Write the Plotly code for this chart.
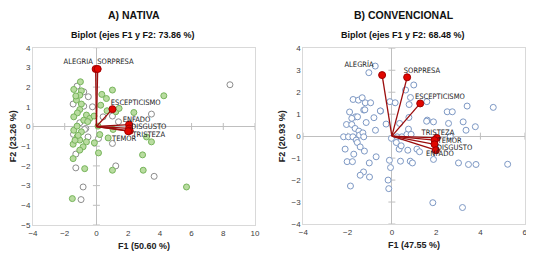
import plotly.graph_objects as go

# ---------------- data: A) NATIVA ----------------
nat_green_x = [-1.01,-1.43,-0.95,-1.05,-1.26,-0.95,-1.05,-1.2,-1.43,-0.63,-0.8,-0.42,-0.15,-1.43,-1.22,-0.95,
               -1.22,-1.05,-1.47,-0.63,-0.84,-1.05,-1.47,-0.13,0.21,0.1,0.13,-0.74,1.01,-1.52,0.34,0.63,0.27,
               1.01,0.67,1.22,1.43,1.05,0.74,2.36,4.25,3.16,3.47,2.91,2.95,5.68,-1.3,-1.35,-1.15,-0.55]
nat_green_y = [2.27,1.88,1.81,1.59,1.34,1.14,0.86,0.69,0.49,0.58,0.32,0.41,0.53,-0.19,0.02,-0.27,
               -0.53,-0.69,-0.9,-0.78,-1.03,-1.2,-1.63,-0.83,-0.41,0.02,-1.34,-2.14,-2.22,-3.66,1.63,1.42,1.08,
               1.85,0.8,0.75,0.92,-0.15,-0.58,0.71,1.56,-0.53,-0.78,-1.44,-2.22,-3.07,1.55,-0.7,-0.45,0.25]
nat_open_x = [-1.22,-0.8,-0.51,-1.47,-0.8,-1.05,-0.25,-0.67,-0.53,-1.3,0.13,-1.3,1.22,-0.84,-0.97,0.42,
              1.01,1.39,1.01,3.47,3.64,8.42,-1.45,-0.75]
nat_open_y = [2.05,1.76,1.51,1.14,1.03,0.19,1.0,-0.1,-0.53,-1.4,-0.61,-2.1,-2.0,-3.07,-3.71,0.49,
              0.53,0.24,-0.86,0.63,-2.53,2.12,-0.4,-0.15]
nat_vars = ["ALEGRIA", "SORPRESA", "ESCEPTICISMO", "ENFADO", "DISGUSTO", "TRISTEZA", "TEMOR"]
nat_load_x = [-0.05, 0.08, 1.01, 2.06, 2.06, 2.1, 2.0]
nat_load_y = [2.92, 2.92, 0.88, 0.1, -0.1, -0.22, -0.24]
nat_lab_x = [-1.15, 1.2, 2.48, 2.53, 3.3, 3.3, 1.75]
nat_lab_y = [3.25, 3.25, 1.2, 0.34, -0.03, -0.43, -0.63]
nat_xticks = [-4, -2, 0, 2, 4, 6, 8, 10]
nat_yticks = [-5, -4, -3, -2, -1, 0, 1, 2, 3, 4]

# ---------------- data: B) CONVENCIONAL ----------------
conv_x = [-0.75,-1.04,0.99,0.62,0.84,-1.75,-1.51,-1.34,-1.2,-0.96,-0.09,0.15,0.78,1.58,-1.27,-0.51,
          -1.91,-1.64,-1.81,-1.55,-1.16,-0.81,-0.26,0.35,0.77,1.6,1.88,2.5,2.73,3.4,4.58,2.56,
          3.22,3.77,3.35,2.64,-2.05,-1.81,-1.66,-1.49,-1.46,-1.31,-2.18,-1.96,-1.76,-1.61,-1.27,-1.56,
          -1.43,-0.74,-0.02,0.24,0.45,0.68,0.75,0.87,0.33,0.72,1.13,1.25,-2.11,-1.72,-1.24,-0.71,
          -2.02,-1.78,-1.02,-0.11,0.39,0.83,0.93,1.88,3.01,3.46,3.8,5.23,-1.28,-1.43,-1.01,-0.06,
          -0.17,-0.14,-1.87,1.85,3.19,0.2,0.42,-0.52,1.57,-1.22]
conv_y = [3.19,2.89,2.33,2.1,1.76,1.67,1.64,1.75,1.52,1.52,1.57,1.52,1.44,1.57,1.19,1.14,
          1.1,0.88,0.81,0.88,0.62,0.84,0.55,0.58,0.85,0.73,0.65,1.11,1.11,1.37,1.31,0.58,
          0.65,0.43,0.27,0.0,0.53,0.53,0.35,0.23,0.05,0.15,-0.03,-0.03,-0.03,-0.18,-0.03,-0.29,
          -0.49,0.27,-0.1,-0.03,-0.03,0.08,0.32,0.08,-0.59,-0.64,-0.59,-0.71,-0.59,-0.82,-0.68,-0.94,
          -1.16,-1.16,-1.22,-1.1,-1.14,-1.14,-1.22,-1.06,-1.22,-1.29,-1.29,-1.28,-1.63,-1.78,-1.86,-1.43,
          -2.0,-2.39,-2.27,-3.03,-3.25,-0.29,-0.44,1.15,0.68,1.2]
conv_vars = ["ALEGRÍA", "SORPRESA", "ESCEPTICISMO", "TRISTEZA", "TEMOR", "DISGUSTO", "ENFADO"]
conv_load_x = [-0.44, 0.69, 1.28, 2.03, 1.93, 1.93, 1.99]
conv_load_y = [2.78, 2.68, 1.49, -0.08, -0.18, -0.37, -0.64]
conv_lab_x = [-1.48, 1.36, 2.17, 2.08, 2.61, 2.83, 2.17]
conv_lab_y = [3.24, 2.98, 1.79, 0.14, -0.24, -0.54, -0.84]
conv_xticks = [-4, -2, 0, 2, 4, 6]
conv_yticks = [-4, -3, -2, -1, 0, 1, 2, 3, 4]

FONT = "Liberation Sans"
LABFONT = "Liberation Sans Narrow, DejaVu Sans Condensed, Liberation Sans"
fig = go.Figure()


def add_panel(xa, ya, pts, load_x, load_y, names, lab_x, lab_y, xticks, yticks):
    xr, yr = f"x{xa}" if xa > 1 else "x", f"y{ya}" if ya > 1 else "y"
    # small tick marks on the zero lines (Excel style)
    fig.add_trace(go.Scatter(x=[0] * len(yticks), y=yticks, mode="markers", xaxis=xr, yaxis=yr,
                             marker=dict(symbol="line-ew-open", size=5, color="#bfbfbf",
                                         line=dict(color="#bfbfbf", width=1)),
                             hoverinfo="skip", showlegend=False))
    fig.add_trace(go.Scatter(x=xticks, y=[0] * len(xticks), mode="markers", xaxis=xr, yaxis=yr,
                             marker=dict(symbol="line-ns-open", size=5, color="#bfbfbf",
                                         line=dict(color="#bfbfbf", width=1)),
                             hoverinfo="skip", showlegend=False))
    for px, py, fill, edge in pts:
        fig.add_trace(go.Scatter(x=px, y=py, mode="markers", xaxis=xr, yaxis=yr, showlegend=False,
                                 marker=dict(size=6, color=fill, line=dict(color=edge, width=1))))
    for lx, ly in zip(load_x, load_y):
        fig.add_trace(go.Scatter(x=[0, lx], y=[0, ly], mode="lines", xaxis=xr, yaxis=yr, showlegend=False,
                                 line=dict(color="#9b0d0d", width=1.3)))
    fig.add_trace(go.Scatter(x=load_x, y=load_y, mode="markers", xaxis=xr, yaxis=yr, showlegend=False,
                             marker=dict(size=7, color="#e10600", line=dict(color="#a00000", width=1))))
    fig.add_trace(go.Scatter(x=lab_x, y=lab_y, text=names, mode="text", xaxis=xr, yaxis=yr, showlegend=False,
                             textfont=dict(family=LABFONT, size=7.5, color="#1a1a1a")))


add_panel(1, 1,
          [(nat_open_x, nat_open_y, "white", "#8c8c8c"),
           (nat_green_x, nat_green_y, "#b9dca0", "#76b45a")],
          nat_load_x, nat_load_y, nat_vars, nat_lab_x, nat_lab_y, nat_xticks, nat_yticks)
add_panel(2, 2,
          [(conv_x, conv_y, "white", "#7d98c4")],
          conv_load_x, conv_load_y, conv_vars, conv_lab_x, conv_lab_y, conv_xticks, conv_yticks)

axcommon = dict(showgrid=False, zeroline=True, zerolinecolor="#bfbfbf", zerolinewidth=1,
                showline=True, linecolor="#d9d9d9", linewidth=1, mirror=True, ticks="",
                tickfont=dict(family=FONT, size=8, color="#404040"), automargin=False)

# The page body has an 8 px default margin; the figure is sized to fill the rest of the window.
W, H, OFF = 526, 248, 8


def px_x(v):
    return (v - OFF) / W


def px_y(v):
    return 1 - (v - OFF) / H


title_font = dict(family=FONT, size=10.5, color="#111")
sub_font = dict(family=FONT, size=9, color="#111")
axt_font = dict(family=FONT, size=9, color="#222")

fig.update_layout(
    width=W, height=H, margin=dict(l=0, r=0, t=0, b=0),
    paper_bgcolor="white", plot_bgcolor="white", showlegend=False,
    xaxis=dict(domain=[px_x(33), px_x(255)], range=[-4, 10], tickvals=nat_xticks, anchor="y",
               title=dict(text="<b>F1 (50.60 %)</b>", font=axt_font, standoff=6), **axcommon),
    yaxis=dict(domain=[px_y(225), px_y(47.7)], range=[-5, 4], tickvals=nat_yticks, anchor="x",
               title=dict(text="<b>F2 (23.26 %)</b>", font=axt_font, standoff=4), **axcommon),
    xaxis2=dict(domain=[px_x(303.3), px_x(524.7)], range=[-4, 6], tickvals=conv_xticks, anchor="y2",
                title=dict(text="<b>F1 (47.55 %)</b>", font=axt_font, standoff=6), **axcommon),
    yaxis2=dict(domain=[px_y(224), px_y(48.3)], range=[-4, 4], tickvals=conv_yticks, anchor="x2",
                title=dict(text="<b>F2 (20.93 %)</b>", font=axt_font, standoff=4), **axcommon),
    annotations=[
        dict(text="<b>A) NATIVA</b>", x=px_x(134), y=1, xref="paper", yref="paper", borderpad=0,
             showarrow=False, font=title_font, xanchor="center", yanchor="top"),
        dict(text="<b>B) CONVENCIONAL</b>", x=px_x(404), y=1, xref="paper", yref="paper", borderpad=0,
             showarrow=False, font=title_font, xanchor="center", yanchor="top"),
        dict(text="<b>Biplot (ejes F1 y F2: 73.86 %)</b>", x=px_x(133), y=px_y(35), xref="paper", yref="paper",
             showarrow=False, font=sub_font, xanchor="center", yanchor="middle"),
        dict(text="<b>Biplot (ejes F1 y F2: 68.48 %)</b>", x=px_x(403), y=px_y(35), xref="paper", yref="paper",
             showarrow=False, font=sub_font, xanchor="center", yanchor="middle"),
    ],
)

fig.write_html("out.html")
